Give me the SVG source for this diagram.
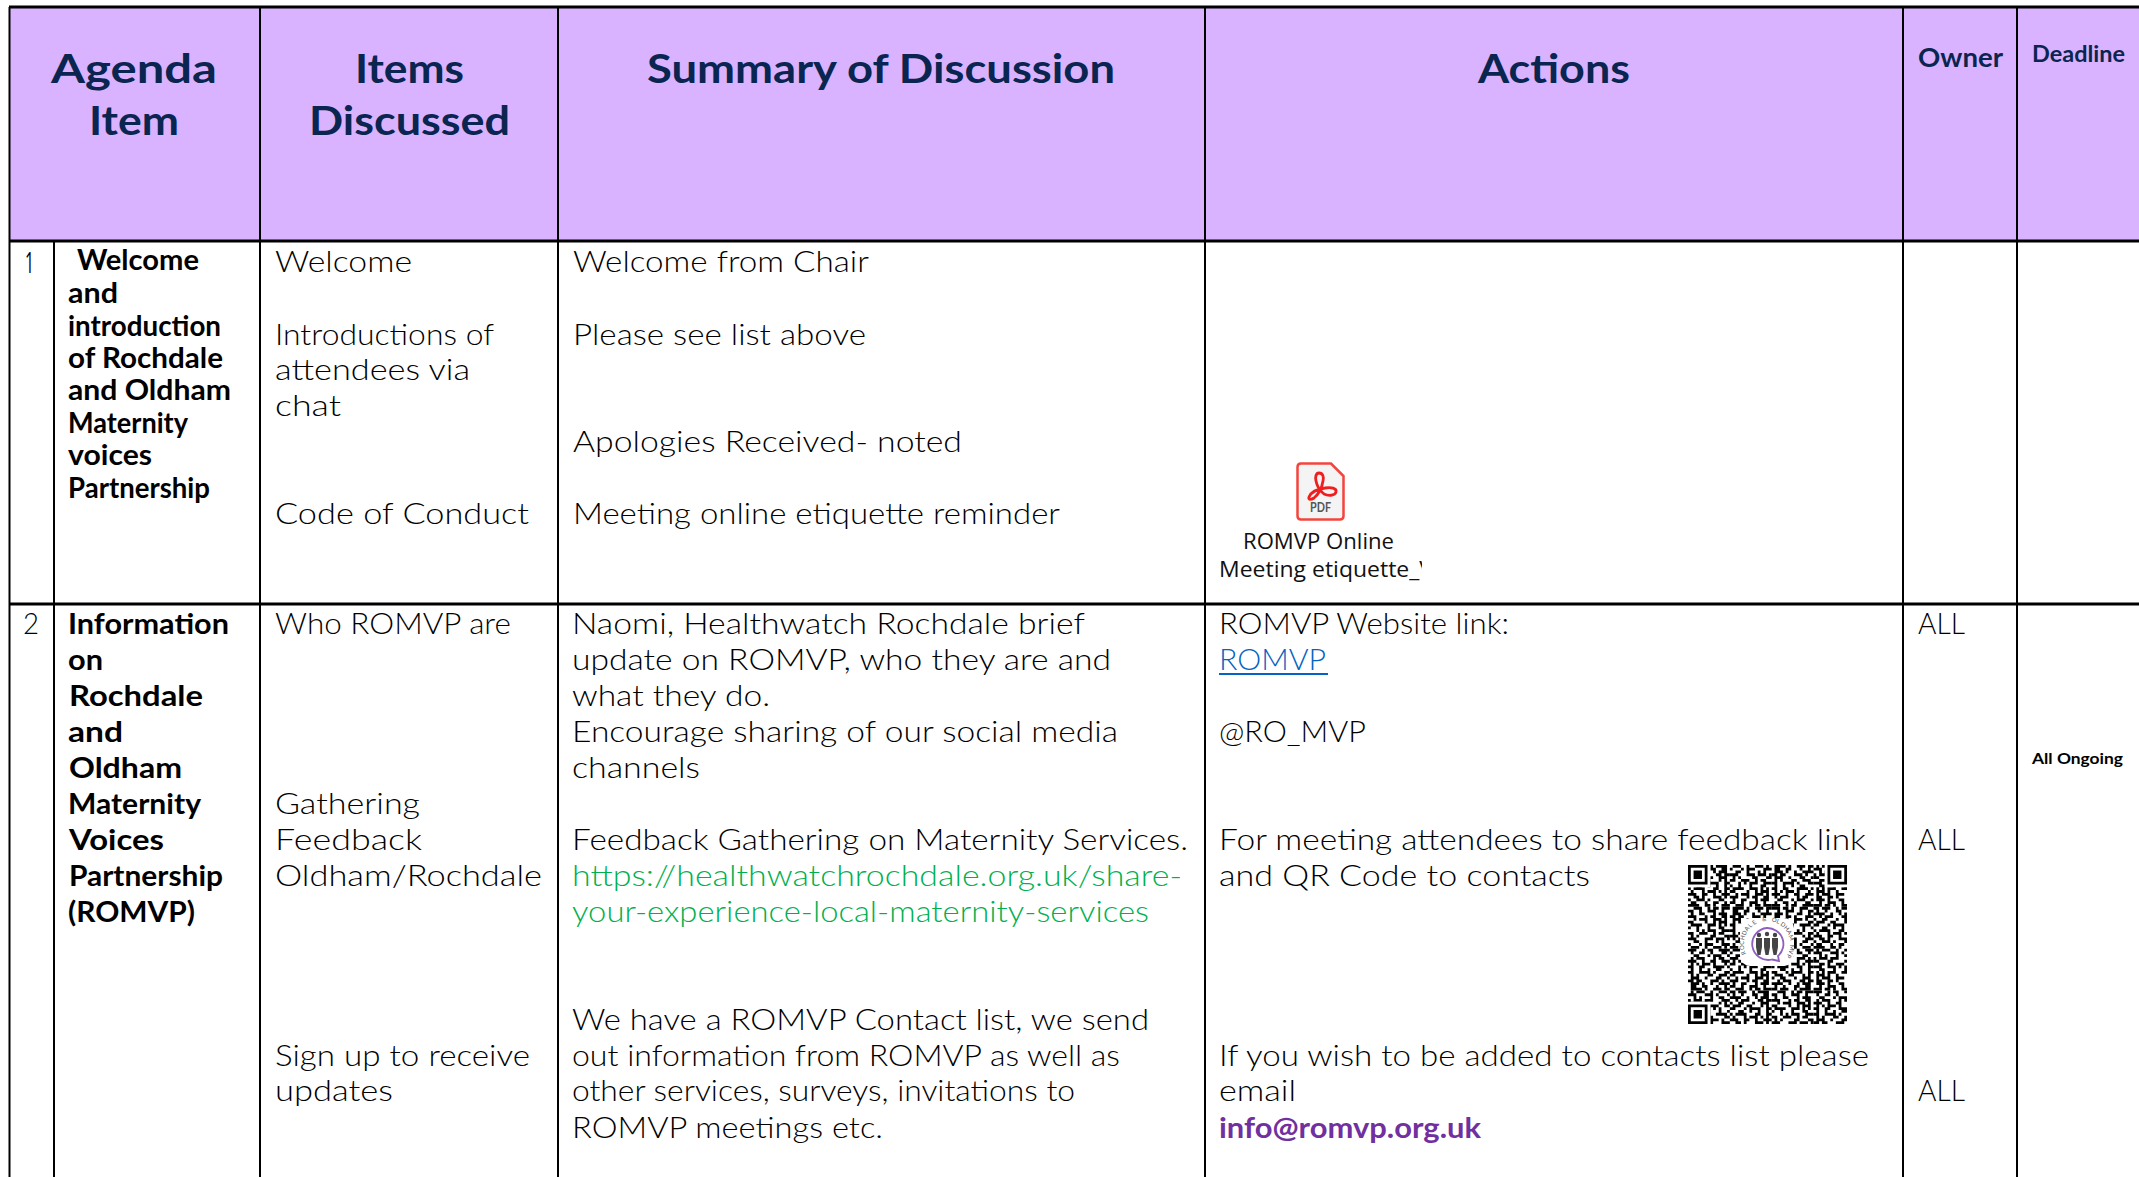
<svg xmlns="http://www.w3.org/2000/svg" width="2139" height="1177" viewBox="0 0 2139 1177">
<style>
text{font-family:"Lato","Liberation Sans",sans-serif;fill:#111;white-space:pre}
.b{font-size:29px;font-weight:300;fill:#000}
.g{fill:#00b050}
.s{font-size:28px;font-weight:700;fill:#000}
.h{font-size:40px;font-weight:700;fill:#0a2550}
.c{font-family:"Open Sans","Noto Sans",sans-serif;font-size:21px;fill:#111}
.l{stroke:#000;stroke-width:2;fill:none}
.t{stroke:#000;stroke-width:3;fill:none}
.q{stroke:#000;stroke-width:1;fill:none}
</style>
<defs>
<clipPath id="clipLabel"><rect x="1215" y="525" width="207" height="65"/></clipPath>
<clipPath id="clipQr"><rect x="0" y="0" width="57" height="57"/></clipPath>
<path id="qa" class="q" d="M0 .5h2m1 0h3m2 0h1m1 0h4M1 1.5h1m2 0h1m3 0h2m2 0h2M0 2.5h4m2 0h1m2 0h1m1 0h3M2 3.5h1m1 0h3m3 0h2m1 0h2M0 4.5h1m2 0h2m3 0h1m2 0h3M1 5.5h3m2 0h2m3 0h1m1 0h1M0 6.5h2m3 0h1m1 0h4m2 0h2M3 7.5h2m2 0h1m2 0h1m2 0h1M0 8.5h1m1 0h4m3 0h2m2 0h2M1 9.5h1m3 0h1m1 0h3m1 0h1m1 0h1M0 10.5h3m2 0h2m2 0h1m2 0h3M2 11.5h2m1 0h1m3 0h3m1 0h1M0 12.5h1m2 0h3m1 0h1m3 0h2M1 13.5h2m3 0h1m2 0h2m2 0h1M0 14.5h4m2 0h2m1 0h1m2 0h3"/>
<path id="qb" class="q" d="M1 .5h3m2 0h1m2 0h3m1 0h1M0 1.5h1m3 0h1m1 0h3m3 0h3M2 2.5h2m2 0h1m3 0h1m1 0h1M0 3.5h3m3 0h3m1 0h3m1 0h1M1 4.5h1m1 0h1m4 0h2m3 0h2M0 5.5h2m2 0h3m2 0h1m1 0h2M3 6.5h1m1 0h1m1 0h3m2 0h3M0 7.5h1m2 0h1m3 0h1m3 0h2M1 8.5h4m2 0h3m1 0h1m1 0h1M0 9.5h2m4 0h1m2 0h1m1 0h3M2 10.5h1m1 0h3m2 0h3m1 0h1M0 11.5h3m3 0h1m1 0h2m2 0h2M1 12.5h1m2 0h2m3 0h1m1 0h3M0 13.5h2m2 0h1m2 0h3m2 0h1M2 14.5h3m2 0h1m1 0h2m1 0h3"/>
</defs>

<g id="grid">
<rect x="9" y="7" width="2130" height="234" fill="#d9b3ff"/>
<path class="t" d="M9 7H2139M9 241H2139M9 604H2139"/>
<path class="l" d="M9.500 7V1177M54 241V1177M260 7V1177M558 7V1177M1205 7V1177M1903 7V1177M2017 7V1177"/>
</g>

<g id="header" transform="translate(0,.500)">
<text class="h" x="51" y="82" textLength="166" lengthAdjust="spacingAndGlyphs">Agenda</text>
<text class="h" x="89" y="134" textLength="90" lengthAdjust="spacingAndGlyphs">Item</text>
<text class="h" x="355" y="82" textLength="109" lengthAdjust="spacingAndGlyphs">Items</text>
<text class="h" x="309" y="134" textLength="201" lengthAdjust="spacingAndGlyphs">Discussed</text>
<text class="h" x="647" y="82" textLength="468" lengthAdjust="spacingAndGlyphs">Summary of Discussion</text>
<text class="h" x="1478" y="82" textLength="152" lengthAdjust="spacingAndGlyphs">Actions</text>
<text class="h" x="1918" y="66" style="font-size:26px" textLength="85" lengthAdjust="spacingAndGlyphs">Owner</text>
<text class="h" x="2032" y="61" style="font-size:22px" textLength="93" lengthAdjust="spacingAndGlyphs">Deadline</text>
</g>

<g id="row1">
<text x="25" y="273" style="font-family:'Open Sans',sans-serif;font-size:30px;font-weight:400;fill:#000" textLength="9" lengthAdjust="spacingAndGlyphs">1</text>
<g transform="translate(0,1)">
<text class="s" x="77" y="269" textLength="122" lengthAdjust="spacingAndGlyphs">Welcome</text>
<text class="s" x="68" y="302" textLength="50" lengthAdjust="spacingAndGlyphs">and</text>
<text class="s" x="68" y="335" textLength="153" lengthAdjust="spacingAndGlyphs">introduction</text>
<text class="s" x="68" y="367" textLength="155" lengthAdjust="spacingAndGlyphs">of Rochdale</text>
<text class="s" x="68" y="399" textLength="163" lengthAdjust="spacingAndGlyphs">and Oldham</text>
<text class="s" x="68" y="432" textLength="120" lengthAdjust="spacingAndGlyphs">Maternity</text>
<text class="s" x="68" y="464" textLength="84" lengthAdjust="spacingAndGlyphs">voices</text>
<text class="s" x="68" y="497" textLength="142" lengthAdjust="spacingAndGlyphs">Partnership</text>
</g>
<text class="b" x="275" y="272" textLength="137" lengthAdjust="spacingAndGlyphs">Welcome</text>
<text class="b" x="275" y="345" textLength="219" lengthAdjust="spacingAndGlyphs">Introductions of</text>
<text class="b" x="275" y="380" textLength="195" lengthAdjust="spacingAndGlyphs">attendees via</text>
<text class="b" x="275" y="416" textLength="66" lengthAdjust="spacingAndGlyphs">chat</text>
<text class="b" x="275" y="524" textLength="254" lengthAdjust="spacingAndGlyphs">Code of Conduct</text>
<text class="b" x="573" y="272" textLength="296" lengthAdjust="spacingAndGlyphs">Welcome from Chair</text>
<text class="b" x="573" y="345" textLength="293" lengthAdjust="spacingAndGlyphs">Please see list above</text>
<text class="b" x="573" y="452" textLength="389" lengthAdjust="spacingAndGlyphs">Apologies Received- noted</text>
<text class="b" x="573" y="524" textLength="487" lengthAdjust="spacingAndGlyphs">Meeting online etiquette reminder</text>
</g>

<g id="pdf-attachment">
<path d="M1301 463.500H1331L1343.500 476V516Q1343.500 519.500 1340 519.500H1301Q1297.500 519.500 1297.500 516V467Q1297.500 463.500 1301 463.500Z" fill="#f4f4f4" stroke="#f4443c" stroke-width="2.500"/>
<path d="M1319 473c-3 0-4 4-3 8 1 5 4 10 8 13 4 2 11 2 12-2s-5-5-11-4c-7 1-14 4-16 9-1 3 2 3 5 1 4-3 8-10 9-17 1-4 0-8-4-8Z" fill="none" stroke="#f01e1e" stroke-width="2.800"/>
<text x="1310" y="512" style="font-size:13px;font-weight:700;fill:#555" textLength="21" lengthAdjust="spacingAndGlyphs">PDF</text>
<text class="c" x="1243" y="549" textLength="151" lengthAdjust="spacingAndGlyphs">ROMVP Online</text>
<g clip-path="url(#clipLabel)"><text class="c" x="1219" y="576.500" textLength="214" lengthAdjust="spacingAndGlyphs">Meeting etiquette_V</text></g>
</g>

<g id="row2" transform="translate(0,1.500)">
<text class="b" x="23" y="632" textLength="16" lengthAdjust="spacingAndGlyphs">2</text>
<text class="s" x="68" y="632" textLength="161" lengthAdjust="spacingAndGlyphs">Information</text>
<text class="s" x="68" y="668" textLength="35" lengthAdjust="spacingAndGlyphs">on</text>
<text class="s" x="69" y="704" textLength="134" lengthAdjust="spacingAndGlyphs">Rochdale</text>
<text class="s" x="68" y="740" textLength="55" lengthAdjust="spacingAndGlyphs">and</text>
<text class="s" x="69" y="776" textLength="113" lengthAdjust="spacingAndGlyphs">Oldham</text>
<text class="s" x="68" y="812" textLength="133" lengthAdjust="spacingAndGlyphs">Maternity</text>
<text class="s" x="69" y="848" textLength="95" lengthAdjust="spacingAndGlyphs">Voices</text>
<text class="s" x="69" y="884" textLength="154" lengthAdjust="spacingAndGlyphs">Partnership</text>
<text class="s" x="68" y="920" textLength="127" lengthAdjust="spacingAndGlyphs">(ROMVP)</text>
<text class="b" x="275" y="632" textLength="236" lengthAdjust="spacingAndGlyphs">Who ROMVP are</text>
<text class="b" x="275" y="812" textLength="145" lengthAdjust="spacingAndGlyphs">Gathering</text>
<text class="b" x="275" y="848" textLength="147" lengthAdjust="spacingAndGlyphs">Feedback</text>
<text class="b" x="275" y="884" textLength="267" lengthAdjust="spacingAndGlyphs">Oldham/Rochdale</text>
<text class="b" x="275" y="1064" textLength="255" lengthAdjust="spacingAndGlyphs">Sign up to receive</text>
<text class="b" x="275" y="1099" textLength="118" lengthAdjust="spacingAndGlyphs">updates</text>
<text class="b" x="572" y="632" textLength="513" lengthAdjust="spacingAndGlyphs">Naomi, Healthwatch Rochdale brief</text>
<text class="b" x="572" y="668" textLength="539" lengthAdjust="spacingAndGlyphs">update on ROMVP, who they are and</text>
<text class="b" x="572" y="704" textLength="198" lengthAdjust="spacingAndGlyphs">what they do.</text>
<text class="b" x="572" y="740" textLength="546" lengthAdjust="spacingAndGlyphs">Encourage sharing of our social media</text>
<text class="b" x="572" y="776" textLength="128" lengthAdjust="spacingAndGlyphs">channels</text>
<text class="b" x="572" y="848" textLength="616" lengthAdjust="spacingAndGlyphs">Feedback Gathering on Maternity Services.</text>
<text class="b g" x="572" y="884" textLength="610" lengthAdjust="spacingAndGlyphs">https://healthwatchrochdale.org.uk/share-</text>
<text class="b g" x="572" y="920" textLength="577" lengthAdjust="spacingAndGlyphs">your-experience-local-maternity-services</text>
<text class="b" x="572" y="1028" textLength="577" lengthAdjust="spacingAndGlyphs">We have a ROMVP Contact list, we send</text>
<text class="b" x="572" y="1064" textLength="548" lengthAdjust="spacingAndGlyphs">out information from ROMVP as well as</text>
<text class="b" x="572" y="1099" textLength="503" lengthAdjust="spacingAndGlyphs">other services, surveys, invitations to</text>
<text class="b" x="572" y="1136" textLength="311" lengthAdjust="spacingAndGlyphs">ROMVP meetings etc.</text>
<text class="b" x="1219" y="632" textLength="290" lengthAdjust="spacingAndGlyphs">ROMVP Website link:</text>
<text class="b" x="1219" y="668" style="fill:#0563c1" textLength="107" lengthAdjust="spacingAndGlyphs">ROMVP</text>
<path d="M1219 672.500H1328" stroke="#0563c1" stroke-width="2"/>
<text class="b" x="1219" y="740" textLength="147" lengthAdjust="spacingAndGlyphs">@RO_MVP</text>
<text class="b" x="1219" y="848" textLength="647" lengthAdjust="spacingAndGlyphs">For meeting attendees to share feedback link</text>
<text class="b" x="1219" y="884" textLength="371" lengthAdjust="spacingAndGlyphs">and QR Code to contacts</text>
<text class="b" x="1219" y="1064" textLength="650" lengthAdjust="spacingAndGlyphs">If you wish to be added to contacts list please</text>
<text class="b" x="1219" y="1099" textLength="77" lengthAdjust="spacingAndGlyphs">email</text>
<text class="s" x="1219" y="1136" style="fill:#7030a0" textLength="262" lengthAdjust="spacingAndGlyphs">info@romvp.org.uk</text>
<text class="b" x="1918" y="632" textLength="47" lengthAdjust="spacingAndGlyphs">ALL</text>
<text class="b" x="1918" y="848" textLength="47" lengthAdjust="spacingAndGlyphs">ALL</text>
<text class="b" x="1918" y="1099" textLength="47" lengthAdjust="spacingAndGlyphs">ALL</text>
<text x="2032" y="762" style="font-size:16px;font-weight:700;fill:#000" textLength="91" lengthAdjust="spacingAndGlyphs">All Ongoing</text>
</g>

<g id="qr-code">
<g transform="translate(1688,865) scale(2.79)">
<g clip-path="url(#clipQr)">
<use href="#qa"/><use href="#qb" transform="translate(15,0)"/><use href="#qa" transform="translate(45,0) scale(-1,1)"/><use href="#qb" transform="translate(60,0) scale(-1,1)"/>
<use href="#qb" transform="translate(0,30) scale(1,-1)"/><use href="#qa" transform="translate(30,15) scale(-1,1)"/><use href="#qb" transform="translate(45,30) scale(-1,-1)"/><use href="#qa" transform="translate(45,15)"/>
<use href="#qa" transform="translate(15,45) scale(-1,-1)"/><use href="#qb" transform="translate(15,30)"/><use href="#qa" transform="translate(30,45) scale(1,-1)"/><use href="#qb" transform="translate(60,30) scale(-1,1)"/>
<use href="#qb" transform="translate(15,45) scale(-1,1)"/><use href="#qa" transform="translate(15,45)"/><use href="#qb" transform="translate(30,60) scale(1,-1)"/><use href="#qa" transform="translate(60,60) scale(-1,-1)"/>
</g>
<path fill="#fff" d="M0 0h8v8H0zM49 0h8v8h-8zM0 49h8v8H0z"/>
<path fill="#000" fill-rule="evenodd" d="M0 0h7v7H0zM1 1v5h5V1zM2 2h3v3H2zM50 0h7v7h-7zM51 1v5h5V1zM52 2h3v3h-3zM0 50h7v7H0zM1 51v5h5v-5zM2 52h3v3H2z"/>
</g>
<rect x="1740" y="918" width="54" height="48" rx="10" fill="#fff"/>
<path d="M1767 928a16 16 0 1 0 5 31.500l7 1.500-1-5a16 16 0 0 0-11-28Z" fill="none" stroke="#8f5fbf" stroke-width="1.800"/>
<g fill="#444"><circle cx="1759" cy="935" r="2.200"/><circle cx="1767" cy="934" r="2.200"/><circle cx="1775" cy="935" r="2.200"/><path d="M1756 938h6v9l-1.500 8h-3l-1.500-8zM1764 938h6v9l-1.500 8h-3l-1.500-8zM1772 938h6v9l-1.500 8h-3l-1.500-8z"/></g>
<text style="font-size:6px;fill:#555" x="1746.200 1744.600 1744 1744.300 1745.500 1747.600 1750.500 1754 1758 1762.400 1767 1771.600 1776 1780 1783.500 1786.400 1788.500 1789.700 1790 1789.400 1787.800" y="953.700 949.400 944.800 940.200 935.800 931.600 928 925 922.800 921.500 921 921.500 922.800 925 928 931.600 935.800 940.200 944.800 949.400 953.700" rotate="-115 -103.500 -92 -80.500 -69 -57.500 -46 -34.500 -23 -11.500 0 11.500 23 34.500 46 57.500 69 80.500 92 103.500 115">ROCHDALE &amp; OLDHAM MVP</text>
</g>
</svg>
